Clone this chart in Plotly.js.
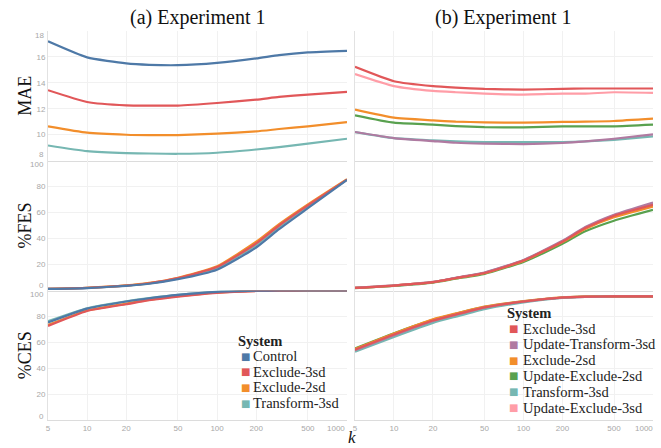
<!DOCTYPE html>
<html><head><meta charset="utf-8">
<script src="https://cdn.plot.ly/plotly-3.0.1.min.js"></script>
<style>html,body{margin:0;padding:0;background:#fff}#chart{width:661px;height:448px}</style>
</head><body><div id="chart"></div>
<script>
// ---------- data ----------
const kValues = [5, 10, 20, 30, 50, 100, 200, 300, 500, 1000];
const xTickVals = [5, 10, 20, 50, 100, 200, 500, 1000];
const xTickText = ['5', '10', '20', '50', '100', '200', '500', '1000'];
const maeTicks = [8, 10, 12, 14, 16, 18];
const pctTicks = [0, 20, 40, 60, 80, 100];
const panelTitles = ['(a) Experiment 1', '(b) Experiment 1'];
const metricNames = ['MAE', '%FES', '%CES'];
const xTitle = 'k';
const legendTitle = 'System';

const systemsA = ['Control', 'Exclude-3sd', 'Exclude-2sd', 'Transform-3sd'];
const systemsB = ['Exclude-3sd', 'Update-Transform-3sd', 'Exclude-2sd', 'Update-Exclude-2sd', 'Transform-3sd', 'Update-Exclude-3sd'];
const systemColors = {
  'Control': '#4e79a7',
  'Exclude-3sd': '#e15759',
  'Exclude-2sd': '#f28e2b',
  'Transform-3sd': '#76b7b2',
  'Update-Transform-3sd': '#b07aa1',
  'Update-Exclude-2sd': '#59a14f',
  'Update-Exclude-3sd': '#ff9da7'
};

// Panel (a) MAE
const maeA_control = [17.2, 15.96, 15.5, 15.39, 15.36, 15.54, 15.88, 16.14, 16.35, 16.47];
const maeA_excl3   = [13.43, 12.52, 12.26, 12.24, 12.24, 12.44, 12.7, 12.91, 13.09, 13.3];
const maeA_excl2   = [10.64, 10.15, 9.99, 9.96, 9.96, 10.07, 10.25, 10.43, 10.64, 10.97];
const maeA_trans3  = [9.16, 8.72, 8.57, 8.54, 8.52, 8.6, 8.85, 9.03, 9.3, 9.68];
// Panel (a) %FES
const fesA_control = [1.2, 1.9, 3.6, 5.2, 8.7, 16.0, 33.1, 47.2, 63.3, 85.0];
const fesA_excl3   = [1.2, 2.0, 3.8, 5.6, 9.5, 18.0, 36.2, 50.0, 65.5, 85.3];
const fesA_excl2   = [1.3, 2.1, 3.9, 5.8, 9.8, 18.6, 37.5, 51.0, 66.2, 85.6];
const fesA_trans3  = [1.2, 2.0, 3.7, 5.5, 9.2, 17.3, 35.0, 49.0, 64.8, 85.2];
// Panel (a) %CES
const cesA_control = [75.3, 86.0, 91.5, 94.0, 96.6, 99.0, 99.8, 100, 100, 100];
const cesA_excl3   = [72.6, 84.2, 89.4, 92.5, 95.3, 98.2, 99.6, 99.9, 100, 100];
const cesA_excl2   = [73.4, 84.6, 89.9, 92.8, 95.6, 98.4, 99.7, 99.9, 100, 100];
const cesA_trans3  = [76.3, 86.3, 91.7, 94.2, 96.7, 99.0, 99.8, 100, 100, 100];

// Panel (b) MAE
const maeB_excl3   = [15.23, 14.12, 13.74, 13.63, 13.53, 13.48, 13.53, 13.56, 13.56, 13.56];
const maeB_updT3   = [10.2, 9.73, 9.5, 9.37, 9.3, 9.27, 9.35, 9.47, 9.68, 10.02];
const maeB_excl2   = [11.93, 11.31, 11.1, 11.0, 10.95, 10.92, 10.98, 11.0, 11.05, 11.23];
const maeB_updE2   = [11.49, 10.92, 10.77, 10.66, 10.58, 10.56, 10.64, 10.64, 10.64, 10.77];
const maeB_trans3  = [10.2, 9.73, 9.55, 9.47, 9.42, 9.42, 9.42, 9.47, 9.6, 9.86];
const maeB_updE3   = [14.67, 13.74, 13.37, 13.27, 13.17, 13.09, 13.17, 13.17, 13.27, 13.22];
// Panel (b) %FES
const fesB_excl3   = [2.0, 3.8, 6.4, 9.6, 13.5, 23.0, 37.5, 48.0, 57.5, 65.9];
const fesB_updT3   = [2.1, 3.9, 6.6, 9.8, 13.8, 23.5, 38.2, 48.8, 58.3, 67.7];
const fesB_excl2   = [2.0, 3.8, 6.4, 9.5, 13.4, 22.8, 37.2, 47.3, 56.3, 64.6];
const fesB_updE2   = [1.9, 3.6, 6.1, 9.1, 12.8, 22.0, 36.0, 45.5, 53.7, 62.0];
const fesB_trans3  = [2.0, 3.8, 6.5, 9.7, 13.6, 23.3, 37.8, 48.3, 57.8, 66.5];
const fesB_updE3   = [2.0, 3.8, 6.4, 9.6, 13.5, 23.1, 37.6, 48.0, 57.6, 66.2];
// Panel (b) %CES
const cesB_excl3   = [54.3, 66.0, 76.8, 81.5, 87.0, 91.5, 94.6, 95.2, 95.5, 95.5];
const cesB_updT3   = [53.8, 65.5, 76.5, 81.2, 86.8, 91.4, 94.5, 95.1, 95.4, 95.5];
const cesB_excl2   = [54.8, 66.8, 77.8, 82.3, 87.6, 91.8, 94.7, 95.2, 95.5, 95.5];
const cesB_updE2   = [55.3, 67.0, 77.3, 82.0, 87.3, 91.6, 94.6, 95.2, 95.5, 95.5];
const cesB_trans3  = [52.8, 64.2, 75.0, 79.8, 85.6, 90.8, 94.3, 95.0, 95.4, 95.5];
const cesB_updE3   = [53.5, 65.3, 76.2, 81.0, 86.6, 91.3, 94.5, 95.1, 95.4, 95.5];

// ---------- assemble ----------
const W = 661, H = 448;
const px = v => v / W;
const py = v => 1 - v / H;

// series per panel, in drawing order (last on top)
const panelA = {
  'Transform-3sd': [maeA_trans3, fesA_trans3, cesA_trans3],
  'Exclude-2sd':   [maeA_excl2, fesA_excl2, cesA_excl2],
  'Exclude-3sd':   [maeA_excl3, fesA_excl3, cesA_excl3],
  'Control':       [maeA_control, fesA_control, cesA_control]
};
const panelB = {
  'Update-Exclude-3sd':   [maeB_updE3, fesB_updE3, cesB_updE3],
  'Transform-3sd':        [maeB_trans3, fesB_trans3, cesB_trans3],
  'Update-Exclude-2sd':   [maeB_updE2, fesB_updE2, cesB_updE2],
  'Exclude-2sd':          [maeB_excl2, fesB_excl2, cesB_excl2],
  'Update-Transform-3sd': [maeB_updT3, fesB_updT3, cesB_updT3],
  'Exclude-3sd':          [maeB_excl3, fesB_excl3, cesB_excl3]
};

const traces = [];
[panelA, panelB].forEach((panel, c) => {
  Object.keys(panel).forEach(name => {
    panel[name].forEach((vals, r) => {
      const idx = r * 2 + c + 1;
      const sfx = idx === 1 ? '' : String(idx);
      traces.push({
        type: 'scatter', mode: 'lines', name: name,
        x: kValues, y: vals, xaxis: 'x' + sfx, yaxis: 'y' + sfx,
        line: {color: systemColors[name], width: 2.2, shape: 'spline', smoothing: 0.5},
        showlegend: false, hoverinfo: 'x+y+name'
      });
    });
  });
});

const colDom = [[px(48), px(347)], [px(355), px(653)]];
const rowDom = [[py(160.5), py(31)], [py(290.5), py(160.5)], [py(420), py(290.5)]];
const rowRange = [[8, 18], [0, 100], [0, 100]];
const rowTicks = [maeTicks, pctTicks, pctTicks];
const tickFont = {family: 'Liberation Sans, Arial, sans-serif', size: 8, color: '#a8a8a8'};
const serif = 'Liberation Serif, Times New Roman, serif';

const layout = {
  width: W, height: H,
  margin: {l: 0, r: 0, t: 0, b: 0},
  paper_bgcolor: '#fff', plot_bgcolor: '#fff',
  showlegend: false,
  annotations: []
};

for (let r = 0; r < 3; r++) {
  for (let c = 0; c < 2; c++) {
    const idx = r * 2 + c + 1;
    const sfx = idx === 1 ? '' : String(idx);
    const ticks = rowTicks[r];
    layout['xaxis' + sfx] = {
      type: 'log', domain: colDom[c], anchor: 'y' + sfx,
      range: [Math.log10(xTickVals[0]), Math.log10(xTickVals[xTickVals.length - 1])],
      tickvals: xTickVals,
      ticktext: xTickText.map((t, i) => i === xTickText.length - 1 ? '' : t),
      showticklabels: r === 2, tickfont: tickFont, ticks: '',
      showgrid: true, gridcolor: '#f1f1f1', gridwidth: 1,
      showline: true, linecolor: '#dcdcdc', linewidth: 1,
      zeroline: false, fixedrange: true
    };
    layout['yaxis' + sfx] = {
      domain: rowDom[r], anchor: 'x' + sfx, range: rowRange[r],
      tickvals: ticks,
      ticktext: ticks.map((t, i) => (i === 0 || i === ticks.length - 1) ? '' : String(t)),
      showticklabels: c === 0, tickfont: tickFont, ticks: '',
      showgrid: true, gridcolor: '#f1f1f1', gridwidth: 1,
      showline: true, linecolor: '#e2e2e2', linewidth: 1,
      zeroline: false, fixedrange: true,
      title: c === 0 ? {text: metricNames[r], font: {family: serif, size: 18, color: '#111'}, standoff: 0} : undefined
    };
    // edge tick labels, nudged inside the row as in the reference
    if (c === 0) {
      const shifts = [[6, -4], [5, -4], [4, -4]][r];
      [0, ticks.length - 1].forEach((ti, j) => {
        layout.annotations.push({
          xref: 'paper', yref: 'y' + sfx, x: px(44.5), y: ticks[ti],
          xanchor: 'right', yanchor: 'middle', yshift: shifts[j],
          text: String(ticks[ti]), showarrow: false, font: tickFont, borderpad: 0
        });
      });
    }
    // last x tick label, kept inside the panel
    if (r === 2) {
      layout.annotations.push({
        xref: 'x' + sfx, yref: 'paper', x: Math.log10(xTickVals[xTickVals.length - 1]), y: py(428),
        xanchor: 'right', yanchor: 'middle', xshift: c === 0 ? -1 : 1,
        text: xTickText[xTickText.length - 1], showarrow: false, font: tickFont, borderpad: 0
      });
    }
  }
}

// panel titles
[198, 503].forEach((cx, i) => {
  layout.annotations.push({
    xref: 'paper', yref: 'paper', x: px(cx), y: py(17), xanchor: 'center', yanchor: 'middle',
    text: panelTitles[i], showarrow: false, font: {family: serif, size: 20, color: '#111'}
  });
});
// x title
layout.annotations.push({
  xref: 'paper', yref: 'paper', x: px(352), y: py(448), xanchor: 'center', yanchor: 'bottom',
  text: '<i>' + xTitle + '</i>', showarrow: false, borderpad: 0,
  font: {family: serif, size: 17, color: '#111'}
});

// legends (drawn as text so spacing matches the reference)
function addLegend(names, titleX, titleY, markX, textX, firstY, step) {
  layout.annotations.push({
    xref: 'paper', yref: 'paper', x: px(titleX), y: py(titleY), xanchor: 'left', yanchor: 'middle',
    text: '<b>' + legendTitle + '</b>', showarrow: false, borderpad: 0,
    font: {family: serif, size: 14.5, color: '#222'}
  });
  names.forEach((n, i) => {
    const yy = firstY + i * step;
    layout.annotations.push({
      xref: 'paper', yref: 'paper', x: px(markX), y: py(yy), xanchor: 'center', yanchor: 'middle',
      text: '■', showarrow: false, borderpad: 0,
      font: {family: 'DejaVu Sans, sans-serif', size: 10, color: systemColors[n]}
    });
    layout.annotations.push({
      xref: 'paper', yref: 'paper', x: px(textX), y: py(yy), xanchor: 'left', yanchor: 'middle',
      text: n, showarrow: false, borderpad: 0,
      font: {family: serif, size: 14.5, color: '#222'}
    });
  });
}
addLegend(systemsA, 237, 341, 245, 252, 356, 15.7);
addLegend(systemsB, 506, 313, 513, 522, 328.5, 15.8);

Plotly.newPlot('chart', traces, layout, {displayModeBar: false, staticPlot: true});
</script>
</body></html>
